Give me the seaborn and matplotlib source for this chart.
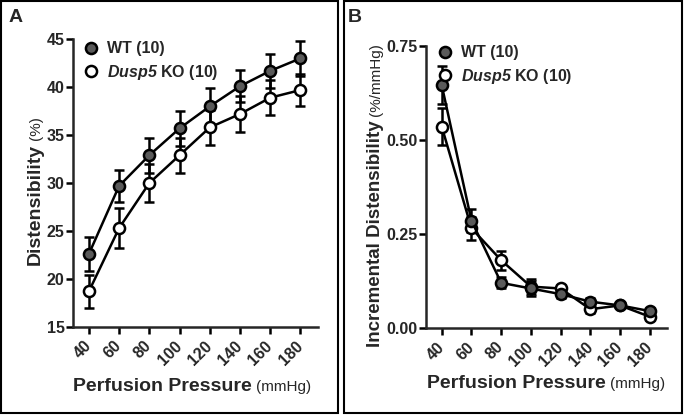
import numpy as np
import pandas as pd
import matplotlib
matplotlib.use("Agg")
import matplotlib.pyplot as plt
from matplotlib.lines import Line2D
from matplotlib.patches import Rectangle
import seaborn as sns

# data (mean +/- SEM)
pressure = [40, 60, 80, 100, 120, 140, 160, 180]

dist_wt = [22.6, 29.7, 32.9, 35.7, 38.0, 40.1, 41.7, 43.0]
dist_wt_err = [1.8, 1.7, 1.8, 1.8, 1.9, 1.7, 1.8, 1.8]
dist_ko = [18.7, 25.3, 30.0, 32.9, 35.8, 37.2, 38.9, 39.7]
dist_ko_err = [1.7, 2.1, 2.0, 1.8, 1.8, 1.9, 1.8, 1.7]

incr_wt = [0.645, 0.285, 0.12, 0.105, 0.09, 0.07, 0.06, 0.045]
incr_wt_err = [0.05, 0.03, 0.015, 0.02, 0.01, 0.01, 0.008, 0.008]
incr_ko = [0.535, 0.265, 0.18, 0.11, 0.105, 0.05, 0.06, 0.03]
incr_ko_err = [0.05, 0.03, 0.025, 0.02, 0.01, 0.01, 0.008, 0.008]

dist_ticks = [15, 20, 25, 30, 35, 40, 45]
incr_ticks = [0.0, 0.25, 0.5, 0.75]

sns.set_style("ticks")
plt.rcParams['font.family'] = ['Liberation Sans', 'DejaVu Sans']
plt.rcParams['mathtext.fontset'] = 'custom'
plt.rcParams['mathtext.rm'] = 'Liberation Sans:bold'
plt.rcParams['mathtext.bf'] = 'Liberation Sans:bold'
plt.rcParams['mathtext.bfit'] = 'Liberation Sans:bold:italic'
plt.rcParams['mathtext.it'] = 'Liberation Sans:bold:italic'

WT_FILL = "#5a5a5a"
LW = 1.8

fig = plt.figure(figsize=(6.84, 4.17), dpi=100)
axA = fig.add_axes([0.1067, 0.216, 0.358, 0.690])
axB = fig.add_axes([0.623, 0.2134, 0.352, 0.677])


def draw_panel(ax, wt, wt_err, ko, ko_err):
    df = pd.DataFrame({"p": pressure, "wt": wt, "ko": ko})
    ax.errorbar(pressure, ko, yerr=ko_err, fmt='none', ecolor='black',
                elinewidth=LW, capsize=3.5, capthick=LW, zorder=2)
    ax.errorbar(pressure, wt, yerr=wt_err, fmt='none', ecolor='black',
                elinewidth=LW, capsize=3.5, capthick=LW, zorder=2)
    sns.lineplot(data=df, x="p", y="ko", ax=ax, color='black', linewidth=LW,
                 marker='o', markersize=8, markerfacecolor='white',
                 markeredgecolor='black', markeredgewidth=LW, zorder=3)
    sns.lineplot(data=df, x="p", y="wt", ax=ax, color='black', linewidth=LW,
                 marker='o', markersize=8, markerfacecolor=WT_FILL,
                 markeredgecolor='black', markeredgewidth=LW, zorder=4)
    ax.set_xlim(29.5, 191.5)
    ax.set_xlabel("")
    ax.set_ylabel("")
    ax.set_xticks(pressure)
    ax.set_xticklabels([str(p) for p in pressure], rotation=45, ha='right',
                       va='center', rotation_mode='anchor',
                       fontsize=11.5, fontweight='bold')
    for sp in ['top', 'right']:
        ax.spines[sp].set_visible(False)
    for sp in ['left', 'bottom']:
        ax.spines[sp].set_linewidth(LW)
    ax.tick_params(axis='both', direction='out', length=5, width=LW,
                   color='black', labelsize=11.5)
    ax.tick_params(axis='x', pad=7)
    ax.tick_params(axis='y', pad=1)
    handles = [
        Line2D([], [], linestyle='none', marker='o', markersize=8,
               markerfacecolor=WT_FILL, markeredgecolor='black', markeredgewidth=LW),
        Line2D([], [], linestyle='none', marker='o', markersize=8,
               markerfacecolor='white', markeredgecolor='black', markeredgewidth=LW),
    ]
    leg = ax.legend(handles, ["WT (10)", r"$\mathbfit{Dusp5}$ KO (10)"],
                    loc='upper left', frameon=False, handlelength=0.8,
                    handletextpad=0.6, labelspacing=0.4,
                    prop={'weight': 'bold', 'size': 11.5})
    return leg


legA = draw_panel(axA, dist_wt, dist_wt_err, dist_ko, dist_ko_err)
axA.set_ylim(15, 45)
axA.set_yticks(dist_ticks)
axA.set_yticklabels([str(t) for t in dist_ticks], fontweight='bold')
legA.set_bbox_to_anchor((-0.012, 1.043), transform=axA.transAxes)

legB = draw_panel(axB, incr_wt, incr_wt_err, incr_ko, incr_ko_err)
axB.set_ylim(0, 0.75)
axB.set_yticks(incr_ticks)
axB.set_yticklabels([f"{t:.2f}" for t in incr_ticks], fontweight='bold')
legB.set_bbox_to_anchor((-0.007, 1.052), transform=axB.transAxes)

# panel letters
fig.text(0.012, 0.948, "A", fontsize=14, fontweight='bold', va='baseline')
fig.text(0.508, 0.948, "B", fontsize=14, fontweight='bold', va='baseline')

# axis labels: bold main part + smaller regular unit
xlabs = [(0.107, 0.0624, "Perfusion Pressure", "(mmHg)", 14),
         (0.624, 0.069, "Perfusion Pressure", "(mmHg)", 14)]
ylabs = [(0.058, 0.364, "Distensibility", "(%)", 14),
         (0.556, 0.168, "Incremental Distensibility", "(%/mmHg)", 13.5)]

main_x = [fig.text(x, y, a, fontsize=s, fontweight='bold', ha='left', va='baseline')
          for x, y, a, b, s in xlabs]
main_y = [fig.text(x, y, a, fontsize=s, fontweight='bold', rotation=90,
                   rotation_mode='anchor', ha='left', va='baseline')
          for x, y, a, b, s in ylabs]
fig.canvas.draw()
r = fig.canvas.get_renderer()
inv = fig.transFigure.inverted()
for t, (x, y, a, b, s) in zip(main_x, xlabs):
    bb = t.get_window_extent(r)
    x1 = inv.transform((bb.x1 + 4, 0))[0]
    fig.text(x1, y, b, fontsize=11, ha='left', va='baseline')
for t, (x, y, a, b, s) in zip(main_y, ylabs):
    bb = t.get_window_extent(r)
    y1 = inv.transform((0, bb.y1 + 4))[1]
    fig.text(x, y1, b, fontsize=11, rotation=90, rotation_mode='anchor',
             ha='left', va='baseline')

# panel frames
fig.patches.append(Rectangle((0.002, 0.009), 0.492, 0.988, transform=fig.transFigure,
                             fill=False, edgecolor='black', linewidth=1.5))
fig.patches.append(Rectangle((0.503, 0.009), 0.494, 0.988, transform=fig.transFigure,
                             fill=False, edgecolor='black', linewidth=1.5))

fig.savefig("out.png", dpi=100)
